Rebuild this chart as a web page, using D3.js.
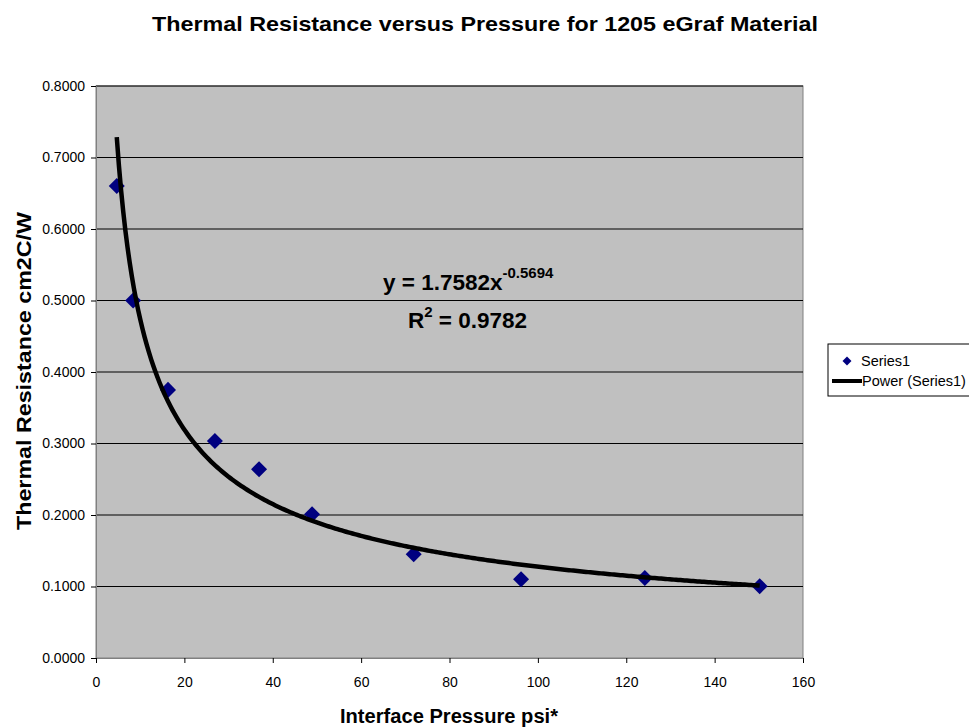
<!DOCTYPE html>
<html lang="en">
<head>
  <meta charset="UTF-8">
  <title>Thermal Resistance versus Pressure</title>
  <style>
    body, html {
      margin: 0;
      padding: 0;
      background-color: white;
    }
    text {
      font-family: "Liberation Sans", Arial, sans-serif;
    }
  </style>
</head>
<body>
  <svg id="svg" width="969" height="727"></svg>
  <script src="https://d3js.org/d3.v7.min.js"></script>
  <script>
    // data
    const pressure = [4.7, 8.4, 16.3, 26.9, 36.9, 48.9, 71.9, 96.2, 124.2, 150.2]
    const resistance = [0.660, 0.500, 0.375, 0.3035, 0.264, 0.201, 0.145, 0.110, 0.112, 0.1005]
    const xTicks = [0, 20, 40, 60, 80, 100, 120, 140, 160]
    const yTicks = [0, 0.1, 0.2, 0.3, 0.4, 0.5, 0.6, 0.7, 0.8]
    // power trendline as printed on the chart
    const fitA = 1.7582
    const fitB = -0.5694
    const fitR2 = 0.9782

    const data = pressure.map((p, i) => ({ x: p, y: resistance[i] }))

    const plotLeft = 96, plotRight = 803, plotTop = 86, plotBottom = 658

    const xScale = d3.scaleLinear().domain([0, 160]).range([plotLeft, plotRight])
    const yScale = d3.scaleLinear().domain([0, 0.8]).range([plotBottom, plotTop])

    const svg = d3.select('#svg')

    // plot area
    svg.append('rect')
      .attr('x', plotLeft)
      .attr('y', plotTop)
      .attr('width', plotRight - plotLeft)
      .attr('height', plotBottom - plotTop)
      .attr('fill', '#c0c0c0')
      .attr('stroke', '#808080')
      .attr('stroke-width', 1)

    // gridlines
    svg.append('g')
      .selectAll('line')
      .data(yTicks.filter(d => d > 0))
      .enter()
      .append('line')
      .attr('x1', plotLeft)
      .attr('x2', plotRight)
      .attr('y1', d => yScale(d))
      .attr('y2', d => yScale(d))
      .attr('stroke', 'black')
      .attr('stroke-width', 1)

    // axes
    const leftAxis = d3.axisLeft(yScale)
      .tickValues(yTicks)
      .tickFormat(d3.format('.4f'))
      .tickSize(5)
      .tickPadding(6)
    const bottomAxis = d3.axisBottom(xScale)
      .tickValues(xTicks)
      .tickSize(5)
      .tickPadding(14)

    const yAxisG = svg.append('g')
      .attr('transform', `translate(${plotLeft}, 0)`)
      .call(leftAxis)
    const xAxisG = svg.append('g')
      .attr('transform', `translate(0, ${plotBottom})`)
      .call(bottomAxis)

    ;[yAxisG, xAxisG].forEach(g => {
      g.select('.domain').attr('stroke', '#808080')
      g.selectAll('.tick line').attr('stroke', '#000')
      g.selectAll('.tick text')
        .attr('fill', '#000')
        .style('font-family', '"Liberation Sans", Arial, sans-serif')
        .style('font-size', '14px')
    })

    // trendline
    const xMin = d3.min(pressure), xMax = d3.max(pressure)
    const curve = d3.range(0, 301).map(i => {
      const x = xMin + (xMax - xMin) * i / 300
      return { x: x, y: fitA * Math.pow(x, fitB) }
    })
    const line = d3.line()
      .x(d => xScale(d.x))
      .y(d => yScale(d.y))

    // points
    const diamond = d3.symbol().type(d3.symbolSquare).size(128)
    svg.append('g')
      .selectAll('path')
      .data(data)
      .enter()
      .append('path')
      .attr('d', diamond)
      .attr('transform', d => `translate(${xScale(d.x)}, ${yScale(d.y)}) rotate(45)`)
      .attr('fill', '#000080')

    svg.append('path')
      .datum(curve)
      .attr('d', line)
      .attr('fill', 'none')
      .attr('stroke', 'black')
      .attr('stroke-width', 4.5)

    // equation label
    const eq = svg.append('text')
      .attr('x', 383)
      .attr('y', 290)
      .style('font-weight', 'bold')
      .style('font-size', '22.5px')
    eq.append('tspan').text(`y = ${fitA}x`)
    eq.append('tspan')
      .attr('dy', -12)
      .style('font-size', '15px')
      .text(fitB)

    const r2 = svg.append('text')
      .attr('x', 408)
      .attr('y', 328)
      .style('font-weight', 'bold')
      .style('font-size', '22.5px')
    r2.append('tspan').text('R')
    r2.append('tspan')
      .attr('dy', -11)
      .style('font-size', '15px')
      .text('2')
    r2.append('tspan')
      .attr('dy', 11)
      .text(` = ${fitR2}`)

    // titles
    svg.append('text')
      .attr('x', 485)
      .attr('y', 31)
      .attr('text-anchor', 'middle')
      .attr('textLength', 666)
      .attr('lengthAdjust', 'spacingAndGlyphs')
      .style('font-weight', 'bold')
      .style('font-size', '21px')
      .text('Thermal Resistance versus Pressure for 1205 eGraf Material')

    svg.append('text')
      .attr('x', 449)
      .attr('y', 723)
      .attr('text-anchor', 'middle')
      .attr('textLength', 218)
      .attr('lengthAdjust', 'spacingAndGlyphs')
      .style('font-weight', 'bold')
      .style('font-size', '19.5px')
      .text('Interface Pressure psi*')

    svg.append('text')
      .attr('transform', 'translate(31, 371) rotate(-90)')
      .attr('text-anchor', 'middle')
      .attr('textLength', 318)
      .attr('lengthAdjust', 'spacingAndGlyphs')
      .style('font-weight', 'bold')
      .style('font-size', '21px')
      .text('Thermal Resistance cm2C/W')

    // legend
    const legend = svg.append('g').attr('transform', 'translate(828, 344)')
    legend.append('rect')
      .attr('x', 0)
      .attr('y', 0)
      .attr('width', 160)
      .attr('height', 52)
      .attr('fill', 'white')
      .attr('stroke', 'black')
      .attr('stroke-width', 1)
    legend.append('path')
      .attr('d', d3.symbol().type(d3.symbolSquare).size(40))
      .attr('transform', 'translate(19, 17) rotate(45)')
      .attr('fill', '#000080')
    legend.append('text')
      .attr('x', 33)
      .attr('y', 22)
      .style('font-size', '14.5px')
      .text('Series1')
    legend.append('line')
      .attr('x1', 4)
      .attr('x2', 34)
      .attr('y1', 37)
      .attr('y2', 37)
      .attr('stroke', 'black')
      .attr('stroke-width', 4)
    legend.append('text')
      .attr('x', 34)
      .attr('y', 42)
      .style('font-size', '14.5px')
      .text('Power (Series1)')
  </script>
</body>
</html>
